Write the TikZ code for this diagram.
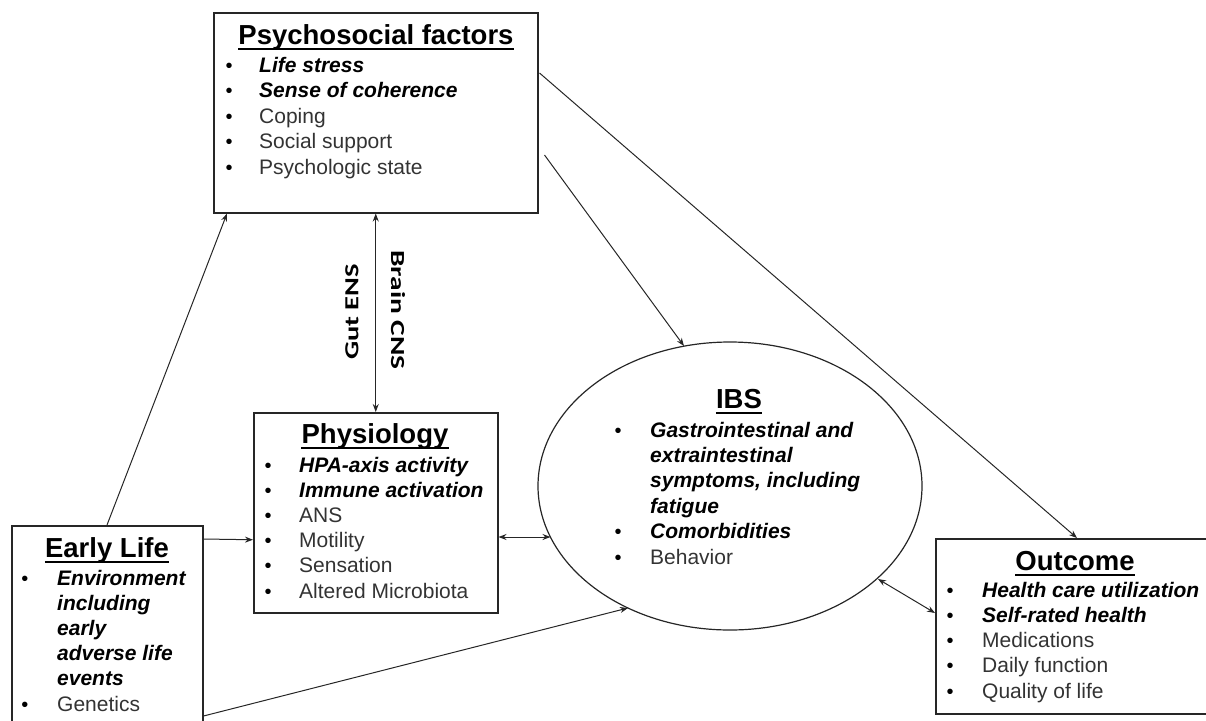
\documentclass[tikz,border=0pt]{standalone}
\usepackage{fontspec}
\setmainfont{Liberation Sans}
\newfontfamily\calib{Carlito}
\usetikzlibrary{arrows.meta,shapes.geometric,calc}
\begin{document}
\begin{tikzpicture}[x=1pt,y=-1pt,
  box/.style={draw=black!85, line width=1.5pt, rectangle, inner sep=0, anchor=north west},
  ttl/.style={anchor=base, inner sep=0, font=\fontsize{27.5}{30}\selectfont\bfseries, text=black},
  bul/.style={anchor=base, inner sep=0, font=\fontsize{20}{20}\selectfont, text=black},
  itm/.style={anchor=base west, inner sep=0, font=\fontsize{21}{25}\selectfont, text=black!80},
  bi/.style={anchor=base west, inner sep=0, font=\fontsize{21}{25}\selectfont\bfseries\itshape, text=black},
  arr/.style={line width=1pt, draw=black!85, -{Stealth[length=8pt,width=6pt]}},
  darr/.style={line width=1pt, draw=black!85, {Stealth[length=8pt,width=6pt]}-{Stealth[length=8pt,width=6pt]}},
  ul/.style={line width=1.6pt, draw=black},
  nlab/.style={inner sep=0, font=\calib\bfseries\fontsize{19}{19}\selectfont, text=black}
]
\useasboundingbox (0,0) rectangle (1206,720);
\clip (0,0) rectangle (1206,720);

% boxes
\node[box, minimum width=324pt, minimum height=200pt] (psy) at (213,12) {};
\node[box, minimum width=244pt, minimum height=200pt] (phys) at (253,412) {};
\node[box, minimum width=191pt, minimum height=230pt] (early) at (11,525) {};
\node[box, minimum width=290pt, minimum height=175pt] (out) at (935,538) {};
\node[draw=black!85, line width=1.2pt, ellipse, inner sep=0, minimum width=384pt, minimum height=288pt] (ibs) at (730,486) {};

% titles
\node[ttl] (psyt) at (376,44) {Psychosocial factors};
\node[ttl] (physt) at (375,443) {Physiology};
\node[ttl] (earlyt) at (107,557) {Early Life};
\node[ttl] (ibst) at (739,408) {IBS};
\node[ttl] (outt) at (1075,570) {Outcome};
\foreach \n in {psyt,physt,earlyt,ibst,outt}{
  \draw[ul] ($(\n.base west)+(0,5)$) -- ($(\n.base east)+(0,5)$);
}

% psychosocial items
\foreach \t/\s [count=\i] in {Life stress/bi, Sense of coherence/bi, Coping/itm, Social support/itm, Psychologic state/itm}{
  \node[bul] (psyb\i) at (229,{72+25.5*(\i-1)}) {\textbullet};
  \node[\s] (psyi\i) at (259,{72+25.5*(\i-1)}) {\t};
}
% physiology items
\foreach \t/\s [count=\i] in {HPA-axis activity/bi, Immune activation/bi, ANS/itm, Motility/itm, Sensation/itm, Altered Microbiota/itm}{
  \node[bul] (physb\i) at (268,{472+25.2*(\i-1)}) {\textbullet};
  \node[\s] (physi\i) at (299,{472+25.2*(\i-1)}) {\t};
}
% early life items
\foreach \t/\s [count=\i] in {Environment/bi, including/bi, early/bi, adverse life/bi, events/bi, Genetics/itm}{
  \node[\s] (earlyi\i) at (57,{585+25.2*(\i-1)}) {\t};
}
\node[bul] (earlyb1) at (25,585) {\textbullet};
\node[bul] (earlyb2) at (25,711) {\textbullet};
% IBS items
\foreach \t/\s [count=\i] in {Gastrointestinal and/bi, extraintestinal/bi, {symptoms, including}/bi, fatigue/bi, Comorbidities/bi, Behavior/itm}{
  \node[\s] (ibsi\i) at (650,{437+25.4*(\i-1)}) {\t};
}
\node[bul] (ibsb1) at (618,437) {\textbullet};
\node[bul] (ibsb2) at (618,538.6) {\textbullet};
\node[bul] (ibsb3) at (618,564) {\textbullet};
% outcome items
\foreach \t/\s [count=\i] in {Health care utilization/bi, Self-rated health/bi, Medications/itm, Daily function/itm, Quality of life/itm}{
  \node[bul] (outb\i) at (950,{597+25.25*(\i-1)}) {\textbullet};
  \node[\s] (outi\i) at (982,{597+25.25*(\i-1)}) {\t};
}

% axis labels
\node[nlab, rotate=90] (gut) at (352,312) {\scalebox{1.5}[1.05]{Gut ENS}};
\node[nlab, rotate=-90] (brain) at (398,310) {\scalebox{1.55}[1.05]{Brain CNS}};

% connectors
\draw[darr] (psy.south) -- (phys.north);
\draw[arr] ($(early.north west)+(96,0)$) -- ($(psy.south west)+(14,0)$);
\draw[arr] ($(early.north east)+(0,14)$) -- ($(phys.west)+(0,27)$);
\draw[arr] ($(early.north east)+(0,191)$) -- ($(ibs.center)+(-102,122)$);
\draw[arr] ($(psy.north east)+(6,143)$) -- ($(ibs.center)+(-46,-140)$);
\draw[arr] ($(psy.north east)+(1,61)$) -- ($(out.north west)+(142,0)$);
\draw[darr] ($(phys.north east)+(0,125)$) -- ($(ibs.center)+(-179.5,51)$);
\draw[darr] ($(ibs.center)+(148,93)$) -- ($(out.north west)+(0,75)$);
\end{tikzpicture}
\end{document}
